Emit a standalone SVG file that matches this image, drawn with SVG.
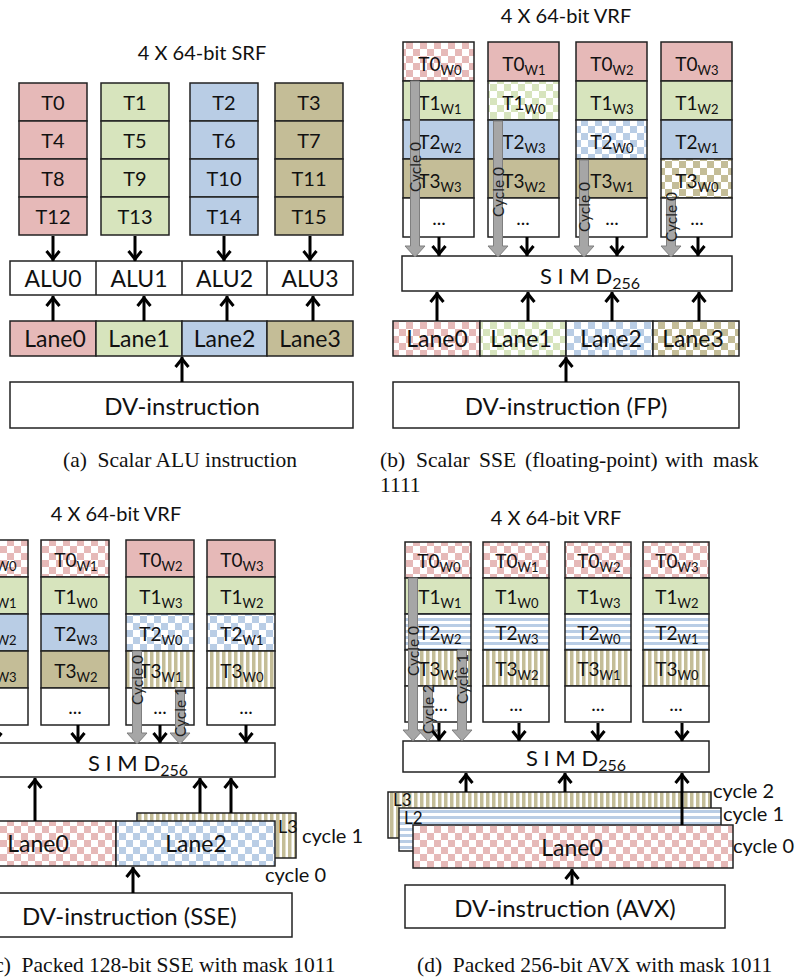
<svg xmlns="http://www.w3.org/2000/svg" width="796" height="980" viewBox="0 0 796 980">
<defs>
<style>
.bx{stroke:#222;stroke-width:1.5}
.t{font-family:Lato,"Liberation Sans",sans-serif;fill:#111}
.tt{font-size:20px}
.c20{font-size:20px}
.c19{font-size:19px}
.lane{font-size:23px}
.dv{font-size:24px}
.sub{font-size:13px}
.sm{font-size:22px}
.cap{font-family:"Liberation Serif",serif;font-size:21.5px;fill:#111;white-space:pre}
.ar{stroke:#000;stroke-width:3;fill:none;marker-end:url(#ah)}
.ga{fill:#a6a6a6;stroke:#7f7f7f;stroke-width:1}
.cy{font-family:Lato,"Liberation Sans",sans-serif;font-size:15.5px;fill:#222}
.cl{font-family:Lato,"Liberation Sans",sans-serif;font-size:20px;fill:#111}
</style>
<marker id="ah" viewBox="0 0 14 16" refX="12" refY="8" markerWidth="14" markerHeight="16" markerUnits="userSpaceOnUse" orient="auto">
<path d="M2,1.5 L10,8 L2,14.5" fill="none" stroke="#000" stroke-width="3"/>
</marker>
<pattern id="ckP" width="14" height="14" patternUnits="userSpaceOnUse"><rect width="14" height="14" fill="#fff"/><rect width="7" height="7" fill="#e6b9b8"/><rect x="7" y="7" width="7" height="7" fill="#e6b9b8"/></pattern>
<pattern id="ckG" width="14" height="14" patternUnits="userSpaceOnUse"><rect width="14" height="14" fill="#fff"/><rect width="7" height="7" fill="#d7e4bd"/><rect x="7" y="7" width="7" height="7" fill="#d7e4bd"/></pattern>
<pattern id="ckB" width="14" height="14" patternUnits="userSpaceOnUse"><rect width="14" height="14" fill="#fff"/><rect width="7" height="7" fill="#b9cde5"/><rect x="7" y="7" width="7" height="7" fill="#b9cde5"/></pattern>
<pattern id="ckT" width="14" height="14" patternUnits="userSpaceOnUse"><rect width="14" height="14" fill="#fff"/><rect width="7" height="7" fill="#c4bd97"/><rect x="7" y="7" width="7" height="7" fill="#c4bd97"/></pattern>
<pattern id="hsB" width="6" height="6" patternUnits="userSpaceOnUse"><rect width="6" height="6" fill="#fff"/><rect width="6" height="3" fill="#b9cde5"/></pattern>
<pattern id="vsT" width="6" height="6" patternUnits="userSpaceOnUse"><rect width="6" height="6" fill="#fff"/><rect width="3.5" height="6" fill="#c4bd97"/></pattern>
</defs>
<rect width="796" height="980" fill="#fff"/>

<!-- ================= Panel (a) ================= -->
<g id="a-title"><text class="t tt" x="202" y="60" text-anchor="middle">4 X 64-bit SRF</text></g>
<g id="a-srf0">
<rect class="bx" x="19" y="83" width="68" height="38" fill="#e6b9b8"/><rect class="bx" x="19" y="121" width="68" height="38" fill="#e6b9b8"/><rect class="bx" x="19" y="159" width="68" height="38" fill="#e6b9b8"/><rect class="bx" x="19" y="197" width="68" height="38" fill="#e6b9b8"/>
<text class="t c20" text-anchor="middle" x="53" y="110">T0</text><text class="t c20" text-anchor="middle" x="53" y="148">T4</text><text class="t c20" text-anchor="middle" x="53" y="186">T8</text><text class="t c20" text-anchor="middle" x="53" y="224">T12</text>
</g>
<g id="a-srf1">
<rect class="bx" x="101" y="83" width="68" height="38" fill="#d7e4bd"/><rect class="bx" x="101" y="121" width="68" height="38" fill="#d7e4bd"/><rect class="bx" x="101" y="159" width="68" height="38" fill="#d7e4bd"/><rect class="bx" x="101" y="197" width="68" height="38" fill="#d7e4bd"/>
<text class="t c20" text-anchor="middle" x="135" y="110">T1</text><text class="t c20" text-anchor="middle" x="135" y="148">T5</text><text class="t c20" text-anchor="middle" x="135" y="186">T9</text><text class="t c20" text-anchor="middle" x="135" y="224">T13</text>
</g>
<g id="a-srf2">
<rect class="bx" x="190" y="83" width="68" height="38" fill="#b9cde5"/><rect class="bx" x="190" y="121" width="68" height="38" fill="#b9cde5"/><rect class="bx" x="190" y="159" width="68" height="38" fill="#b9cde5"/><rect class="bx" x="190" y="197" width="68" height="38" fill="#b9cde5"/>
<text class="t c20" text-anchor="middle" x="224" y="110">T2</text><text class="t c20" text-anchor="middle" x="224" y="148">T6</text><text class="t c20" text-anchor="middle" x="224" y="186">T10</text><text class="t c20" text-anchor="middle" x="224" y="224">T14</text>
</g>
<g id="a-srf3">
<rect class="bx" x="275" y="83" width="68" height="38" fill="#c4bd97"/><rect class="bx" x="275" y="121" width="68" height="38" fill="#c4bd97"/><rect class="bx" x="275" y="159" width="68" height="38" fill="#c4bd97"/><rect class="bx" x="275" y="197" width="68" height="38" fill="#c4bd97"/>
<text class="t c20" text-anchor="middle" x="309" y="110">T3</text><text class="t c20" text-anchor="middle" x="309" y="148">T7</text><text class="t c20" text-anchor="middle" x="309" y="186">T11</text><text class="t c20" text-anchor="middle" x="309" y="224">T15</text>
</g>
<g id="a-alu">
<rect class="bx" x="10" y="261" width="343" height="34" fill="#fff"/>
<line class="bx" x1="96" y1="261" x2="96" y2="295"/><line class="bx" x1="182" y1="261" x2="182" y2="295"/><line class="bx" x1="267" y1="261" x2="267" y2="295"/>
<text class="t lane" text-anchor="middle" x="53" y="287">ALU0</text><text class="t lane" text-anchor="middle" x="139" y="287">ALU1</text><text class="t lane" text-anchor="middle" x="224.5" y="287">ALU2</text><text class="t lane" text-anchor="middle" x="310" y="287">ALU3</text>
</g>
<g id="a-lanes">
<rect class="bx" x="10" y="321" width="86" height="35" fill="#e6b9b8"/><rect class="bx" x="96" y="321" width="86" height="35" fill="#d7e4bd"/><rect class="bx" x="182" y="321" width="85" height="35" fill="#b9cde5"/><rect class="bx" x="267" y="321" width="86" height="35" fill="#c4bd97"/>
<text class="t lane" text-anchor="middle" x="55" y="347">Lane0</text><text class="t lane" text-anchor="middle" x="139" y="347">Lane1</text><text class="t lane" text-anchor="middle" x="224.5" y="347">Lane2</text><text class="t lane" text-anchor="middle" x="310" y="347">Lane3</text>
</g>
<g id="a-dv">
<rect class="bx" x="10" y="382" width="343" height="46" fill="#fff"/>
<text class="t dv" text-anchor="middle" x="182" y="415">DV-instruction</text>
</g>
<g id="a-caption"><text class="cap" xml:space="preserve" x="180" y="467" text-anchor="middle">(a)  Scalar ALU instruction</text></g>

<!-- ================= Panel (b) ================= -->
<g id="b-title"><text class="t tt" x="566" y="23" text-anchor="middle">4 X 64-bit VRF</text></g>
<g id="b-vrf0">
<rect class="bx" x="403" y="42" width="71" height="39" fill="url(#ckP)"/><rect class="bx" x="403" y="81" width="71" height="39" fill="#d7e4bd"/><rect class="bx" x="403" y="120" width="71" height="39" fill="#b9cde5"/><rect class="bx" x="403" y="159" width="71" height="39" fill="#c4bd97"/><rect class="bx" x="403" y="198" width="71" height="39" fill="#fff"/>
<text class="t c19" text-anchor="middle" x="440" y="71">T0<tspan class="sub" dy="4">W0</tspan></text><text class="t c19" text-anchor="middle" x="440" y="110">T1<tspan class="sub" dy="4">W1</tspan></text><text class="t c19" text-anchor="middle" x="440" y="149">T2<tspan class="sub" dy="4">W2</tspan></text><text class="t c19" text-anchor="middle" x="440" y="188">T3<tspan class="sub" dy="4">W3</tspan></text><text class="t c19" text-anchor="middle" x="439" y="225">...</text>
</g>
<g id="b-vrf1">
<rect class="bx" x="488" y="42" width="71" height="39" fill="#e6b9b8"/><rect class="bx" x="488" y="81" width="71" height="39" fill="url(#ckG)"/><rect class="bx" x="488" y="120" width="71" height="39" fill="#b9cde5"/><rect class="bx" x="488" y="159" width="71" height="39" fill="#c4bd97"/><rect class="bx" x="488" y="198" width="71" height="39" fill="#fff"/>
<text class="t c19" text-anchor="middle" x="524" y="71">T0<tspan class="sub" dy="4">W1</tspan></text><text class="t c19" text-anchor="middle" x="524" y="110">T1<tspan class="sub" dy="4">W0</tspan></text><text class="t c19" text-anchor="middle" x="524" y="149">T2<tspan class="sub" dy="4">W3</tspan></text><text class="t c19" text-anchor="middle" x="524" y="188">T3<tspan class="sub" dy="4">W2</tspan></text><text class="t c19" text-anchor="middle" x="523" y="225">...</text>
</g>
<g id="b-vrf2">
<rect class="bx" x="576" y="42" width="71" height="39" fill="#e6b9b8"/><rect class="bx" x="576" y="81" width="71" height="39" fill="#d7e4bd"/><rect class="bx" x="576" y="120" width="71" height="39" fill="url(#ckB)"/><rect class="bx" x="576" y="159" width="71" height="39" fill="#c4bd97"/><rect class="bx" x="576" y="198" width="71" height="39" fill="#fff"/>
<text class="t c19" text-anchor="middle" x="612" y="71">T0<tspan class="sub" dy="4">W2</tspan></text><text class="t c19" text-anchor="middle" x="612" y="110">T1<tspan class="sub" dy="4">W3</tspan></text><text class="t c19" text-anchor="middle" x="612" y="149">T2<tspan class="sub" dy="4">W0</tspan></text><text class="t c19" text-anchor="middle" x="612" y="188">T3<tspan class="sub" dy="4">W1</tspan></text><text class="t c19" text-anchor="middle" x="612" y="225">...</text>
</g>
<g id="b-vrf3">
<rect class="bx" x="661" y="42" width="71" height="39" fill="#e6b9b8"/><rect class="bx" x="661" y="81" width="71" height="39" fill="#d7e4bd"/><rect class="bx" x="661" y="120" width="71" height="39" fill="#b9cde5"/><rect class="bx" x="661" y="159" width="71" height="39" fill="url(#ckT)"/><rect class="bx" x="661" y="198" width="71" height="39" fill="#fff"/>
<text class="t c19" text-anchor="middle" x="697" y="71">T0<tspan class="sub" dy="4">W3</tspan></text><text class="t c19" text-anchor="middle" x="697" y="110">T1<tspan class="sub" dy="4">W2</tspan></text><text class="t c19" text-anchor="middle" x="697" y="149">T2<tspan class="sub" dy="4">W1</tspan></text><text class="t c19" text-anchor="middle" x="697" y="188">T3<tspan class="sub" dy="4">W0</tspan></text><text class="t c19" text-anchor="middle" x="697" y="225">...</text>
</g>
<g id="b-simd">
<rect class="bx" x="402" y="256" width="330" height="35" fill="#fff"/>
<text class="t sm" text-anchor="middle" x="590" y="284">S I M D<tspan font-size="16" dy="5">256</tspan></text>
</g>
<g id="b-lanes">
<rect class="bx" x="393" y="321" width="87" height="35" fill="url(#ckP)"/><rect class="bx" x="480" y="321" width="86" height="35" fill="url(#ckG)"/><rect class="bx" x="566" y="321" width="87" height="35" fill="url(#ckB)"/><rect class="bx" x="653" y="321" width="86" height="35" fill="url(#ckT)"/>
<text class="t lane" text-anchor="middle" x="437" y="347">Lane0</text><text class="t lane" text-anchor="middle" x="521" y="347">Lane1</text><text class="t lane" text-anchor="middle" x="611" y="347">Lane2</text><text class="t lane" text-anchor="middle" x="693" y="347">Lane3</text>
</g>
<g id="b-dv">
<rect class="bx" x="393" y="382" width="346" height="46" fill="#fff"/>
<text class="t dv" text-anchor="middle" x="566" y="415">DV-instruction (FP)</text>
</g>
<g id="b-caption">
<text class="cap" y="467"><tspan x="380">(b)</tspan><tspan x="416">Scalar</tspan><tspan x="479">SSE</tspan><tspan x="525">(floating-point)</tspan><tspan x="665">with</tspan><tspan x="713">mask</tspan></text>
<text class="cap" x="380" y="492">1111</text>
</g>

<!-- ================= Panel (c) ================= -->
<g id="c-title"><text class="t tt" x="116" y="521" text-anchor="middle">4 X 64-bit VRF</text></g>
<g id="c-vrf0">
<rect class="bx" x="-40" y="540" width="68" height="37" fill="url(#ckP)"/><rect class="bx" x="-40" y="577" width="68" height="37" fill="#d7e4bd"/><rect class="bx" x="-40" y="614" width="68" height="37" fill="#b9cde5"/><rect class="bx" x="-40" y="651" width="68" height="37" fill="#c4bd97"/><rect class="bx" x="-40" y="688" width="68" height="37" fill="#fff"/>
<text class="t c19" text-anchor="middle" x="-5" y="567">T0<tspan class="sub" dy="4">W0</tspan></text><text class="t c19" text-anchor="middle" x="-5" y="604">T1<tspan class="sub" dy="4">W1</tspan></text><text class="t c19" text-anchor="middle" x="-5" y="641">T2<tspan class="sub" dy="4">W2</tspan></text><text class="t c19" text-anchor="middle" x="-5" y="678">T3<tspan class="sub" dy="4">W3</tspan></text>
</g>
<g id="c-vrf1">
<rect class="bx" x="41" y="540" width="68" height="37" fill="url(#ckP)"/><rect class="bx" x="41" y="577" width="68" height="37" fill="#d7e4bd"/><rect class="bx" x="41" y="614" width="68" height="37" fill="#b9cde5"/><rect class="bx" x="41" y="651" width="68" height="37" fill="#c4bd97"/><rect class="bx" x="41" y="688" width="68" height="37" fill="#fff"/>
<text class="t c19" text-anchor="middle" x="76" y="567">T0<tspan class="sub" dy="4">W1</tspan></text><text class="t c19" text-anchor="middle" x="76" y="604">T1<tspan class="sub" dy="4">W0</tspan></text><text class="t c19" text-anchor="middle" x="76" y="641">T2<tspan class="sub" dy="4">W3</tspan></text><text class="t c19" text-anchor="middle" x="76" y="678">T3<tspan class="sub" dy="4">W2</tspan></text><text class="t c19" text-anchor="middle" x="75" y="714">...</text>
</g>
<g id="c-vrf2">
<rect class="bx" x="126" y="540" width="68" height="37" fill="#e6b9b8"/><rect class="bx" x="126" y="577" width="68" height="37" fill="#d7e4bd"/><rect class="bx" x="126" y="614" width="68" height="37" fill="url(#ckB)"/><rect class="bx" x="126" y="651" width="68" height="37" fill="url(#vsT)"/><rect class="bx" x="126" y="688" width="68" height="37" fill="#fff"/>
<text class="t c19" text-anchor="middle" x="161" y="567">T0<tspan class="sub" dy="4">W2</tspan></text><text class="t c19" text-anchor="middle" x="161" y="604">T1<tspan class="sub" dy="4">W3</tspan></text><text class="t c19" text-anchor="middle" x="161" y="641">T2<tspan class="sub" dy="4">W0</tspan></text><text class="t c19" text-anchor="middle" x="161" y="678">T3<tspan class="sub" dy="4">W1</tspan></text><text class="t c19" text-anchor="middle" x="160" y="714">...</text>
</g>
<g id="c-vrf3">
<rect class="bx" x="207" y="540" width="68" height="37" fill="#e6b9b8"/><rect class="bx" x="207" y="577" width="68" height="37" fill="#d7e4bd"/><rect class="bx" x="207" y="614" width="68" height="37" fill="url(#ckB)"/><rect class="bx" x="207" y="651" width="68" height="37" fill="url(#vsT)"/><rect class="bx" x="207" y="688" width="68" height="37" fill="#fff"/>
<text class="t c19" text-anchor="middle" x="242" y="567">T0<tspan class="sub" dy="4">W3</tspan></text><text class="t c19" text-anchor="middle" x="242" y="604">T1<tspan class="sub" dy="4">W2</tspan></text><text class="t c19" text-anchor="middle" x="242" y="641">T2<tspan class="sub" dy="4">W1</tspan></text><text class="t c19" text-anchor="middle" x="242" y="678">T3<tspan class="sub" dy="4">W0</tspan></text><text class="t c19" text-anchor="middle" x="246" y="714">...</text>
</g>
<g id="c-simd">
<rect class="bx" x="-80" y="743" width="355" height="34" fill="#fff"/>
<text class="t sm" x="88" y="771">S I M D<tspan font-size="16" dy="5">256</tspan></text>
</g>
<g id="c-lanes">
<rect class="bx" x="137" y="813" width="159" height="45" fill="url(#vsT)"/>
<text class="t" font-size="18" x="278" y="833">L3</text>
<rect class="bx" x="-80" y="821" width="196" height="45" fill="url(#ckP)"/>
<rect class="bx" x="116" y="821" width="159" height="45" fill="url(#ckB)"/>
<text class="t lane" text-anchor="middle" x="38" y="852">Lane0</text>
<text class="t lane" text-anchor="middle" x="196" y="852">Lane2</text>
<text class="cl" x="302" y="843">cycle 1</text>
<text class="cl" x="265" y="882">cycle 0</text>
</g>
<g id="c-dv">
<rect class="bx" x="-60" y="893" width="352" height="44" fill="#fff"/>
<text class="t dv" x="22" y="925">DV-instruction (SSE)</text>
</g>
<g id="c-caption"><text class="cap" xml:space="preserve" x="-13" y="972">(c)  Packed 128-bit SSE with mask 1011</text></g>

<!-- ================= Panel (d) ================= -->
<g id="d-title"><text class="t tt" x="556" y="525" text-anchor="middle">4 X 64-bit VRF</text></g>
<g id="d-vrf0">
<rect class="bx" x="405" y="542" width="66" height="36" fill="url(#ckP)"/><rect class="bx" x="405" y="578" width="66" height="36" fill="#d7e4bd"/><rect class="bx" x="405" y="614" width="66" height="36" fill="url(#hsB)"/><rect class="bx" x="405" y="650" width="66" height="36" fill="url(#vsT)"/><rect class="bx" x="405" y="686" width="66" height="36" fill="#fff"/>
<text class="t c19" text-anchor="middle" x="439" y="568">T0<tspan class="sub" dy="4">W0</tspan></text><text class="t c19" text-anchor="middle" x="440" y="604">T1<tspan class="sub" dy="4">W1</tspan></text><text class="t c19" text-anchor="middle" x="440" y="640">T2<tspan class="sub" dy="4">W2</tspan></text><text class="t c19" text-anchor="middle" x="440" y="676">T3<tspan class="sub" dy="4">W3</tspan></text><text class="t c19" text-anchor="middle" x="441" y="711">...</text>
</g>
<g id="d-vrf1">
<rect class="bx" x="483" y="542" width="66" height="36" fill="url(#ckP)"/><rect class="bx" x="483" y="578" width="66" height="36" fill="#d7e4bd"/><rect class="bx" x="483" y="614" width="66" height="36" fill="url(#hsB)"/><rect class="bx" x="483" y="650" width="66" height="36" fill="url(#vsT)"/><rect class="bx" x="483" y="686" width="66" height="36" fill="#fff"/>
<text class="t c19" text-anchor="middle" x="517" y="568">T0<tspan class="sub" dy="4">W1</tspan></text><text class="t c19" text-anchor="middle" x="517" y="604">T1<tspan class="sub" dy="4">W0</tspan></text><text class="t c19" text-anchor="middle" x="517" y="640">T2<tspan class="sub" dy="4">W3</tspan></text><text class="t c19" text-anchor="middle" x="517" y="676">T3<tspan class="sub" dy="4">W2</tspan></text><text class="t c19" text-anchor="middle" x="516" y="711">...</text>
</g>
<g id="d-vrf2">
<rect class="bx" x="565" y="542" width="66" height="36" fill="url(#ckP)"/><rect class="bx" x="565" y="578" width="66" height="36" fill="#d7e4bd"/><rect class="bx" x="565" y="614" width="66" height="36" fill="url(#hsB)"/><rect class="bx" x="565" y="650" width="66" height="36" fill="url(#vsT)"/><rect class="bx" x="565" y="686" width="66" height="36" fill="#fff"/>
<text class="t c19" text-anchor="middle" x="599" y="568">T0<tspan class="sub" dy="4">W2</tspan></text><text class="t c19" text-anchor="middle" x="599" y="604">T1<tspan class="sub" dy="4">W3</tspan></text><text class="t c19" text-anchor="middle" x="599" y="640">T2<tspan class="sub" dy="4">W0</tspan></text><text class="t c19" text-anchor="middle" x="599" y="676">T3<tspan class="sub" dy="4">W1</tspan></text><text class="t c19" text-anchor="middle" x="598" y="711">...</text>
</g>
<g id="d-vrf3">
<rect class="bx" x="643" y="542" width="66" height="36" fill="url(#ckP)"/><rect class="bx" x="643" y="578" width="66" height="36" fill="#d7e4bd"/><rect class="bx" x="643" y="614" width="66" height="36" fill="url(#hsB)"/><rect class="bx" x="643" y="650" width="66" height="36" fill="url(#vsT)"/><rect class="bx" x="643" y="686" width="66" height="36" fill="#fff"/>
<text class="t c19" text-anchor="middle" x="677" y="568">T0<tspan class="sub" dy="4">W3</tspan></text><text class="t c19" text-anchor="middle" x="677" y="604">T1<tspan class="sub" dy="4">W2</tspan></text><text class="t c19" text-anchor="middle" x="677" y="640">T2<tspan class="sub" dy="4">W1</tspan></text><text class="t c19" text-anchor="middle" x="677" y="676">T3<tspan class="sub" dy="4">W0</tspan></text><text class="t c19" text-anchor="middle" x="676" y="711">...</text>
</g>
<g id="d-simd">
<rect class="bx" x="403" y="741" width="306" height="31" fill="#fff"/>
<text class="t sm" x="526" y="766">S I M D<tspan font-size="16" dy="5">256</tspan></text>
</g>
<g id="d-lanes">
<rect class="bx" x="388" y="792" width="323" height="46" fill="url(#vsT)"/>
<text class="t" font-size="17" x="393" y="806">L3</text>
<rect class="bx" x="399" y="808" width="322" height="43" fill="url(#hsB)"/>
<text class="t" font-size="17" x="404" y="824">L2</text>
<rect class="bx" x="413" y="825" width="320" height="43" fill="url(#ckP)"/>
<text class="t lane" text-anchor="middle" x="572" y="856">Lane0</text>
<text class="cl" x="713" y="798">cycle 2</text>
<text class="cl" x="723" y="821">cycle 1</text>
<text class="cl" x="733" y="853">cycle 0</text>
</g>
<g id="d-dv">
<rect class="bx" x="405" y="885" width="320" height="43" fill="#fff"/>
<text class="t dv" text-anchor="middle" x="565" y="917">DV-instruction (AVX)</text>
</g>
<g id="d-caption"><text class="cap" xml:space="preserve" x="417" y="972">(d)  Packed 256-bit AVX with mask 1011</text></g>

<!-- ================= Connectors ================= -->
<g id="connectors">
<!-- (a) -->
<line class="ar" x1="53" y1="236" x2="53" y2="261"/><line class="ar" x1="135" y1="236" x2="135" y2="261"/><line class="ar" x1="224" y1="236" x2="224" y2="261"/><line class="ar" x1="310" y1="236" x2="310" y2="261"/>
<line class="ar" x1="53" y1="321" x2="53" y2="296"/><line class="ar" x1="144" y1="321" x2="144" y2="296"/><line class="ar" x1="227" y1="321" x2="227" y2="296"/><line class="ar" x1="313" y1="321" x2="313" y2="296"/>
<line class="ar" x1="182" y1="382" x2="182" y2="357"/>
<!-- (b) gray -->
<polygon class="ga" points="410.5,81 419.5,81 419.5,246 425,246 415,257 405,246 410.5,246"/>
<polygon class="ga" points="493.5,121 502.5,121 502.5,246 508,246 498,257 488,246 493.5,246"/>
<polygon class="ga" points="579.5,160 588.5,160 588.5,246 594,246 584,257 574,246 579.5,246"/>
<polygon class="ga" points="666.5,198 675.5,198 675.5,246 681,246 671,257 661,246 666.5,246"/>
<text class="cy" text-anchor="middle" transform="translate(420.5,167) rotate(-90)">Cycle 0</text>
<text class="cy" text-anchor="middle" transform="translate(503.5,192) rotate(-90)">Cycle 0</text>
<text class="cy" text-anchor="middle" transform="translate(589.5,207) rotate(-90)">Cycle 0</text>
<text class="cy" text-anchor="middle" transform="translate(676.5,217) rotate(-90)">Cycle 0</text>
<line class="ar" x1="439" y1="237" x2="439" y2="256"/><line class="ar" x1="527" y1="237" x2="527" y2="256"/><line class="ar" x1="617" y1="237" x2="617" y2="256"/><line class="ar" x1="698" y1="237" x2="698" y2="256"/>
<line class="ar" x1="437" y1="321" x2="437" y2="292"/><line class="ar" x1="528" y1="321" x2="528" y2="292"/><line class="ar" x1="612" y1="321" x2="612" y2="292"/><line class="ar" x1="699" y1="321" x2="699" y2="292"/>
<line class="ar" x1="566" y1="382" x2="566" y2="357"/>
<!-- (c) -->
<polygon class="ga" points="132.5,651 141.5,651 141.5,733 147,733 137,744 127,733 132.5,733"/>
<polygon class="ga" points="175.5,688 184.5,688 184.5,733 190,733 180,744 170,733 175.5,733"/>
<text class="cy" text-anchor="middle" transform="translate(142.5,680) rotate(-90)">Cycle 0</text>
<text class="cy" text-anchor="middle" transform="translate(185.5,712) rotate(-90)">Cycle 1</text>
<line class="ar" x1="-5" y1="725" x2="-5" y2="743"/><line class="ar" x1="78" y1="725" x2="78" y2="743"/><line class="ar" x1="160" y1="725" x2="160" y2="743"/><line class="ar" x1="246" y1="725" x2="246" y2="743"/>
<line class="ar" x1="35" y1="821" x2="35" y2="778"/><line class="ar" x1="200" y1="813" x2="200" y2="778"/><line class="ar" x1="231" y1="813" x2="231" y2="778"/>
<line class="ar" x1="133" y1="893" x2="133" y2="867"/>
<!-- (d) -->
<polygon class="ga" points="408.5,578 417.5,578 417.5,730 423,730 413,741 403,730 408.5,730"/>
<text class="cy" text-anchor="middle" transform="translate(418.5,651) rotate(-90)">Cycle 0</text>
<polygon class="ga" points="423.5,686 432.5,686 432.5,730 438,730 428,741 418,730 423.5,730"/>
<text class="cy" text-anchor="middle" transform="translate(433.5,709) rotate(-90)">Cycle 2</text>
<polygon class="ga" points="457.5,650 466.5,650 466.5,730 472,730 462,741 452,730 457.5,730"/>
<text class="cy" text-anchor="middle" transform="translate(467.5,679) rotate(-90)">Cycle 1</text>
<line class="ar" x1="439" y1="723" x2="439" y2="741"/><line class="ar" x1="519" y1="723" x2="519" y2="741"/><line class="ar" x1="598" y1="723" x2="598" y2="741"/><line class="ar" x1="682" y1="723" x2="682" y2="741"/>
<line class="ar" x1="466" y1="792" x2="466" y2="773"/><line class="ar" x1="565" y1="792" x2="565" y2="773"/><line class="ar" x1="682" y1="825" x2="682" y2="773"/>
<line class="ar" x1="572" y1="885" x2="572" y2="869"/>
</g>
</svg>
